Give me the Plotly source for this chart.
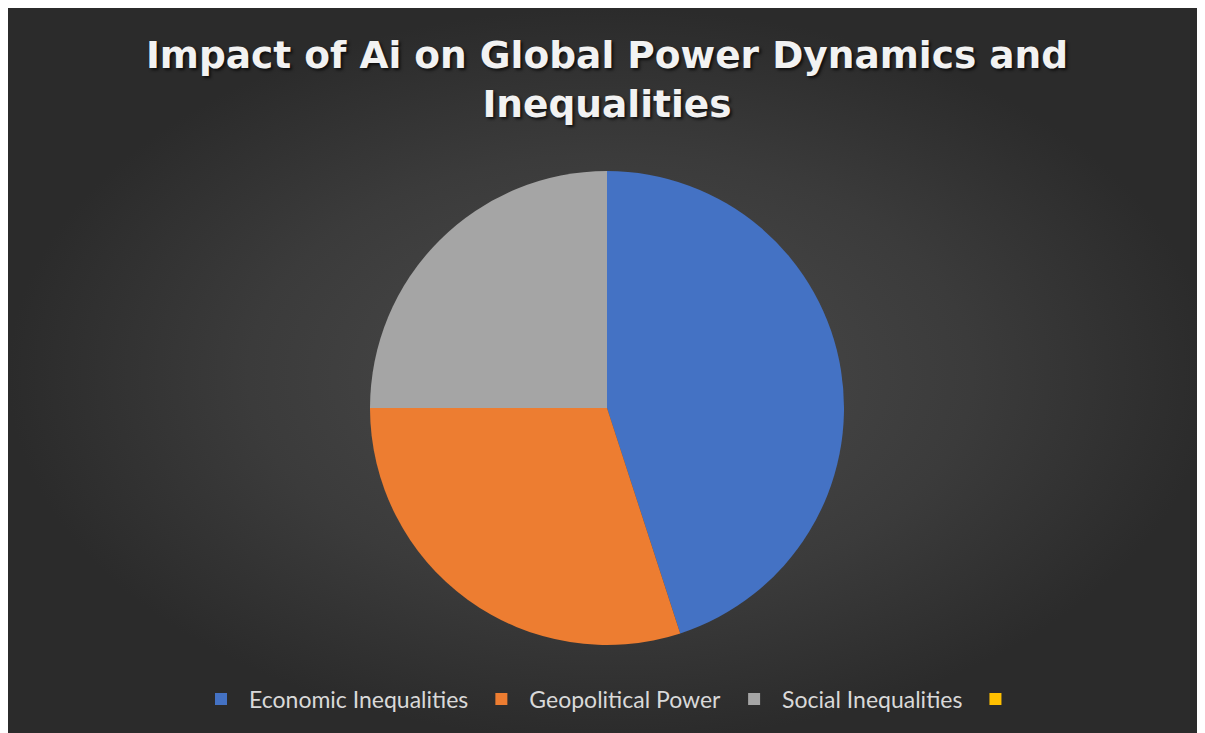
import plotly.graph_objects as go

categories = ["Economic Inequalities", "Geopolitical Power", "Social Inequalities", " "]
values = [45, 30, 25, 0]
colors = ["#4472C4", "#ED7D31", "#A5A5A5", "#FFC000"]
title_text = "Impact of Ai on Global Power Dynamics and<br>Inequalities"

W, H = 1205, 733
OFF = 8  # page body offset

fig = go.Figure()

# background panel with radial gradient (decorative)
fig.add_trace(go.Scatter(
    x=[0, W, W, 0, 0], y=[0, 0, H, H, 0],
    mode="lines", fill="toself", line=dict(width=0),
    fillgradient=dict(type="radial",
                      colorscale=[[0, "#4c4c4c"], [0.6, "#3b3b3b"], [1, "#2b2b2b"]]),
    hoverinfo="skip", showlegend=False,
    xaxis="x", yaxis="y",
))

cx = 607 - OFF
cy = 408 - OFF
r = 237
fig.add_trace(go.Pie(
    labels=categories, values=values,
    marker=dict(colors=colors, line=dict(width=0)),
    sort=False, direction="clockwise", rotation=0,
    textinfo="none", hoverinfo="label+value",
    domain=dict(x=[0, 2 * cx / W], y=[1 - (cy + r) / H, 1 - (cy - r) / H]),
    showlegend=True,
))

fig.update_layout(
    width=W, height=H,
    margin=dict(l=0, r=0, t=0, b=0),
    paper_bgcolor="#3a3a3a",
    plot_bgcolor="rgba(0,0,0,0)",
    xaxis=dict(range=[0, W], visible=False, fixedrange=True),
    yaxis=dict(range=[H, 0], visible=False, fixedrange=True),
    title=dict(
        text=title_text,
        x=(607 - OFF) / W, xanchor="center",
        yref="container", y=1 - 60 / H, yanchor="top",
        font=dict(family="DejaVu Sans", size=37.5, color="#f2f2f2", weight="bold",
                  shadow="2px 2px 3px rgba(0,0,0,0.7)"),
    ),
    legend=dict(
        orientation="h", x=(614 - OFF) / W, xanchor="center",
        y=1 - (699 - OFF) / H, yanchor="middle",
        font=dict(family="Lato", size=23, color="#d9d9d9"),
        bgcolor="rgba(0,0,0,0)", itemwidth=46,
    ),
)

fig.write_html("out.html")
